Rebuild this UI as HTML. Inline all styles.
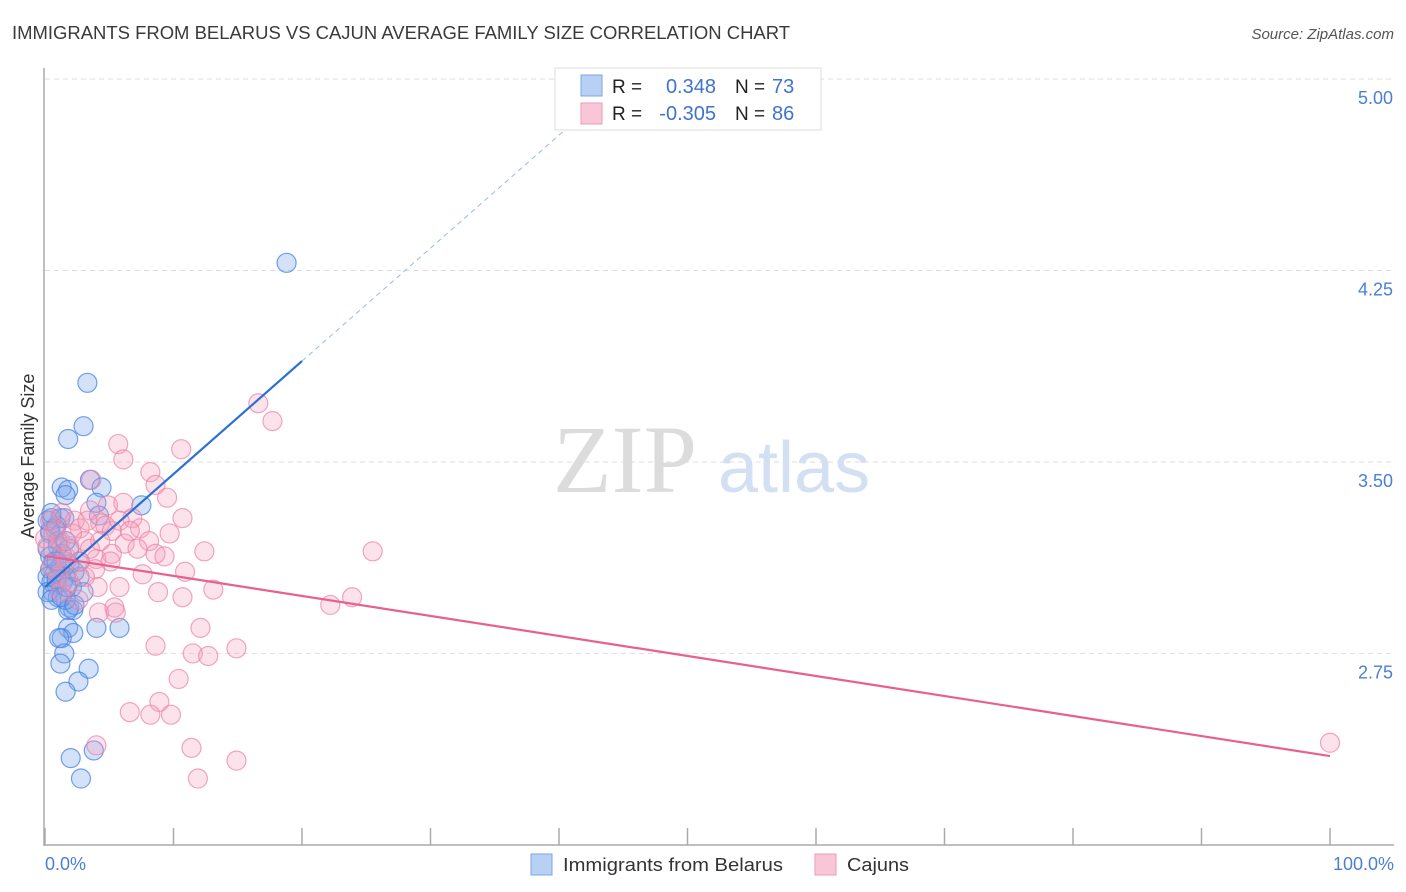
<!DOCTYPE html>
<html><head><meta charset="utf-8"><style>
body{margin:0;background:#fff;font-family:"Liberation Sans",sans-serif;}
svg{display:block}
</style></head><body>
<svg id="chart" width="1406" height="892" xmlns="http://www.w3.org/2000/svg">
<text x="12" y="39" font-size="18" fill="#3a3a3a" textLength="778" lengthAdjust="spacingAndGlyphs" font-family="Liberation Sans, sans-serif">IMMIGRANTS FROM BELARUS VS CAJUN AVERAGE FAMILY SIZE CORRELATION CHART</text>
<text x="1394" y="39" font-size="15" fill="#555" text-anchor="end" font-style="italic">Source: ZipAtlas.com</text>
<g id="grid"></g>
<g>
<text x="553" y="492" font-size="96" fill="#dcdcdc" font-family="Liberation Serif, serif">ZIP</text>
<text x="718" y="492" font-size="72" fill="#d3e0f3" font-family="Liberation Sans, sans-serif">atlas</text>
</g>
<line x1="44" y1="68" x2="44" y2="846" stroke="#aaa" stroke-width="1.5"/>
<line x1="44" y1="845" x2="1394" y2="845" stroke="#aaa" stroke-width="1.5"/>
<g id="xticks"></g>
<g id="points"></g>
<g id="lines"></g>
<text transform="translate(34,456) rotate(-90)" font-size="18" fill="#333" text-anchor="middle">Average Family Size</text>
<text x="45" y="870" font-size="18" fill="#4a7fd6">0.0%</text>
<text x="1394" y="870" font-size="18" fill="#4a7fd6" text-anchor="end">100.0%</text>
<g>
<rect x="531" y="854" width="21" height="21" fill="#b8d0f4" stroke="#7aa6ea"/>
<text x="563" y="871" font-size="18" fill="#333" textLength="220" lengthAdjust="spacingAndGlyphs">Immigrants from Belarus</text>
<rect x="815" y="854" width="21" height="21" fill="#f8c6d6" stroke="#ee9ab6"/>
<text x="847" y="871" font-size="18" fill="#333" textLength="62" lengthAdjust="spacingAndGlyphs">Cajuns</text>
</g>
<g>
<rect x="555" y="68" width="266" height="62" fill="#fff" stroke="#ddd"/>
<rect x="581" y="75" width="21" height="21" fill="#b8d0f4" stroke="#7aa6ea"/>
<rect x="581" y="103" width="21" height="21" fill="#f8c6d6" stroke="#ee9ab6"/>
<text x="612" y="93" font-size="19" fill="#222">R =</text>
<text x="716" y="93" font-size="20" fill="#3f73d0" text-anchor="end">0.348</text>
<text x="735" y="93" font-size="19" fill="#222">N =</text>
<text x="772" y="93" font-size="20" fill="#3f73d0">73</text>
<text x="612" y="120" font-size="19" fill="#222">R =</text>
<text x="716" y="120" font-size="20" fill="#3f73d0" text-anchor="end">-0.305</text>
<text x="735" y="120" font-size="19" fill="#222">N =</text>
<text x="772" y="120" font-size="20" fill="#3f73d0">86</text>
</g>
</svg>
<script>
const yTicks=[5.00,4.25,3.50,2.75];
const yTickLabels=["5.00","4.25","3.50","2.75"];
const xTickCount=10;
const blueX=[18.8,3.3,3.0,1.8,3.5,1.3,1.8,4.4,1.6,4.0,7.5,4.2,1.2,0.5,1.5,0.8,0.4,1.0,0.2,1.3,0.7,1.9,0.4,1.2,1.6,2.7,0.5,0.9,1.4,2.1,0.6,3.0,1.0,1.9,2.2,1.8,4.0,5.8,1.8,2.2,1.3,1.1,1.5,1.2,3.4,2.6,1.6,2.0,3.8,2.8,0.8,0.2,1.2,2.3,1.0,0.4,1.9,1.6,0.9,0.2,0.5,1.3,2.3,0.4,1.6,0.9,0.2,0.5,0.9,1.7,2.7];
const blueY=[4.28,3.81,3.64,3.59,3.43,3.40,3.39,3.40,3.37,3.34,3.33,3.29,3.28,3.28,3.28,3.24,3.22,3.19,3.16,3.14,3.11,3.10,3.08,3.07,3.05,3.05,3.03,3.02,3.03,3.01,2.99,2.99,2.97,2.93,2.92,2.92,2.85,2.85,2.85,2.83,2.81,2.81,2.75,2.71,2.69,2.64,2.60,2.34,2.37,2.26,3.07,3.05,3.09,3.07,3.17,3.23,3.16,2.96,3.25,2.99,2.96,2.97,2.94,3.13,3.19,3.11,3.27,3.30,3.04,3.01,3.11];
const pinkX=[16.6,17.7,5.7,10.6,6.1,8.2,3.6,8.6,9.5,4.9,6.1,3.5,10.7,6.8,4.3,2.3,2.7,4.7,5.2,7.4,8.1,9.7,10.9,12.4,6.2,7.2,8.6,9.3,25.5,4.0,5.2,3.9,7.6,5.8,8.8,4.1,13.1,10.7,23.9,22.2,5.4,4.2,5.5,12.1,8.6,14.9,11.5,12.7,10.4,8.9,6.6,8.2,9.8,4.0,11.4,14.9,11.9,100,1.2,0.8,0.4,1.6,1.9,2.7,3.1,0.5,1.0,0.2,1.3,2.1,3.5,4.3,5.1,2.6,1.6,0.0,3.3,5.8,6.6,1.2,1.9,3.1];
const pinkY=[3.73,3.66,3.57,3.55,3.51,3.46,3.43,3.41,3.36,3.33,3.34,3.31,3.28,3.28,3.26,3.27,3.24,3.25,3.23,3.24,3.19,3.22,3.07,3.15,3.18,3.16,3.14,3.13,3.15,3.12,3.14,3.08,3.06,3.01,2.99,3.01,3.00,2.97,2.97,2.94,2.93,2.91,2.91,2.85,2.78,2.77,2.75,2.74,2.65,2.56,2.52,2.51,2.51,2.39,2.38,2.33,2.26,2.40,3.19,3.23,3.27,3.13,3.17,3.11,3.19,3.09,3.05,3.17,3.30,3.22,3.16,3.19,3.11,2.96,3.11,3.20,3.27,3.27,3.23,2.99,3.03,3.05];
const blueTrend=[3.01,3.895]; // y at x=0 and x=20
const pinkTrend=[3.132,2.348]; // y at x=0 and x=100
const NS="http://www.w3.org/2000/svg";
const xS=v=>45+v*12.85;
const yS=v=>79+(5-v)*255.3;
function mk(tag,attrs,parent){const e=document.createElementNS(NS,tag);for(const k in attrs)e.setAttribute(k,attrs[k]);parent.appendChild(e);return e;}
const grid=document.getElementById('grid');
yTicks.forEach((t,i)=>{
  const l=mk('line',{x1:45,x2:1394,y1:yS(t),y2:yS(t),stroke:'#ddd','stroke-dasharray':'5,4'},grid);
  
  
  const tx=mk('text',{x:1393,y:yS(t)+25,'font-size':18,fill:'#4a7fd6','text-anchor':'end'},grid);
  tx.textContent=yTickLabels[i];
  
  
});
const xt=document.getElementById('xticks');
for(let i=0;i<=xTickCount;i++){
  const l=mk('line',{x1:xS(i*10),x2:xS(i*10),y1:828,y2:845,stroke:'#aaa','stroke-width':1.5},xt);
  
  
}
const pts=document.getElementById('points');
blueX.forEach((x,i)=>{
  const c=mk('circle',{cx:xS(x),cy:yS(blueY[i]),r:9.5,fill:'rgba(120,165,235,0.32)',stroke:'rgba(70,130,225,0.75)','stroke-width':1.2},pts);
  
  
});
pinkX.forEach((x,i)=>{
  const c=mk('circle',{cx:xS(x),cy:yS(pinkY[i]),r:9.5,fill:'rgba(245,160,190,0.3)',stroke:'rgba(235,130,165,0.7)','stroke-width':1.2},pts);
  
  
});
const ln=document.getElementById('lines');
const slope=(blueTrend[1]-blueTrend[0])/20;
const bEnd=(5.0-blueTrend[0])/slope;
const bd=mk('line',{x1:xS(20),y1:yS(blueTrend[1]),x2:xS(bEnd),y2:yS(blueTrend[0]+slope*bEnd),stroke:'#9bb8e8','stroke-width':1,'stroke-dasharray':'5,4'},ln);


const b=mk('line',{x1:xS(0),y1:yS(blueTrend[0]),x2:xS(20),y2:yS(blueTrend[1]),stroke:'#2a6fd6','stroke-width':2.2},ln);


const p=mk('line',{x1:xS(0),y1:yS(pinkTrend[0]),x2:xS(100),y2:yS(pinkTrend[1]),stroke:'#e8608e','stroke-width':2.2},ln);


</script>
</body></html>
